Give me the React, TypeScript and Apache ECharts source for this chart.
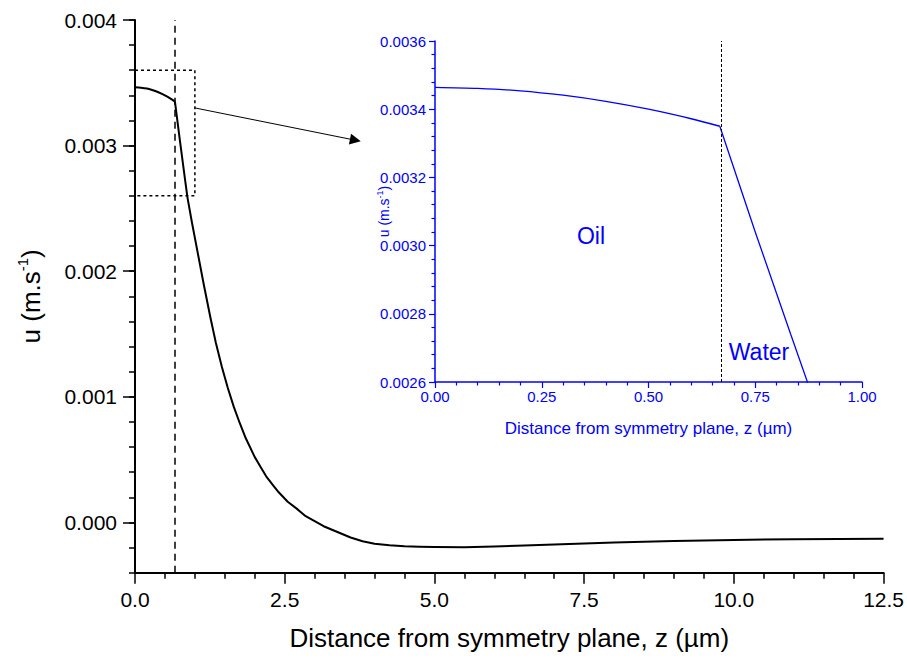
import React, { useEffect, useRef } from 'react';
import * as echarts from 'echarts';

// ---- data ----
const oilZ = [0, 0.1, 0.2, 0.3, 0.4, 0.5, 0.6, 0.667];
const oilU = [0.003464, 0.003461, 0.003454, 0.003441, 0.003423, 0.0034, 0.003372, 0.00335];

const waterZ = [0.667, 0.75, 0.833, 0.875, 0.95, 1.05, 1.15, 1.26, 1.35, 1.45, 1.55, 1.65, 1.75, 1.85, 2.0, 2.1, 2.2, 2.3, 2.4, 2.55, 2.7, 2.85, 3.0, 3.15, 3.3, 3.45, 3.6, 3.8, 4.0, 4.25, 4.5, 4.75, 5.0, 5.5, 6.0, 6.5, 7.0, 8.0, 9.0, 10.0, 11.0, 12.5];
const waterU = [0.00335, 0.00304, 0.00274, 0.00259, 0.00239, 0.00214, 0.00189, 0.00163, 0.00143, 0.00124, 0.00107, 0.00092, 0.00079, 0.00067, 0.00052, 0.00044, 0.00036, 0.0003, 0.00024, 0.000165, 0.00011, 0.00005, 0.00001, -0.00003, -0.00006, -0.00009, -0.00012, -0.00015, -0.00017, -0.000182, -0.00019, -0.000194, -0.000196, -0.000197, -0.000192, -0.000184, -0.000176, -0.00016, -0.000148, -0.000139, -0.000134, -0.00013];

const interfaceZ = 0.667;

const mainYMajor = [0, 0.001, 0.002, 0.003, 0.004];
const zoomBoxZ = [0, 1];
const zoomBoxU = [0.0026, 0.0036];
const arrowFrom = [1.0, 0.0033];
const arrowTo = [3.68, 0.003043];

const regionLabels = ['Oil', 'Water'];

const FONT = 'Liberation Sans, Arial, sans-serif';
const BLUE = '#0000ff';

const pairs = (xs: number[], ys: number[]) => xs.map((x, i) => [x, ys[i]]);
const isMultiple = (v: number, step: number) => Math.abs(v / step - Math.round(v / step)) < 1e-6;

export default function App() {
  const ref = useRef<HTMLDivElement>(null);
  useEffect(() => {
    if (!ref.current) return;
    const chart = echarts.init(ref.current, null, { renderer: 'svg' });
    const blackLine = { color: '#000', width: 2 };
    const blueLine = { color: BLUE, width: 1.5 };
    chart.setOption({
      animation: false,
      backgroundColor: '#fff',
      textStyle: { fontFamily: FONT },
      grid: [
        { left: 135, right: 23, top: 20, bottom: 88.3 },
        { left: 435, right: 45, top: 41, bottom: 279 },
      ],
      xAxis: [
        {
          gridIndex: 0, type: 'value', min: 0, max: 12.5, interval: 2.5,
          axisLine: { onZero: false, lineStyle: blackLine },
          axisTick: { length: 11, lineStyle: { color: '#000', width: 1.5 } },
          minorTick: { show: true, splitNumber: 5, length: 6, lineStyle: { color: '#000', width: 1.5 } },
          splitLine: { show: false },
          axisLabel: { fontSize: 21, color: '#000', margin: 16, fontFamily: FONT, formatter: (v: number) => v.toFixed(1) },
          name: 'Distance from symmetry plane, z (µm)', nameLocation: 'middle', nameGap: 52,
          nameTextStyle: { fontSize: 26, color: '#000', fontFamily: FONT },
        },
        {
          gridIndex: 1, type: 'value', min: 0, max: 1, interval: 0.25,
          axisLine: { onZero: false, lineStyle: blueLine },
          axisTick: { length: 6, lineStyle: { color: BLUE, width: 1.2 } },
          minorTick: { show: true, splitNumber: 5, length: 3.5, lineStyle: { color: BLUE, width: 1.2 } },
          splitLine: { show: false },
          axisLabel: { fontSize: 15, color: BLUE, margin: 7, fontFamily: FONT, formatter: (v: number) => v.toFixed(2) },
          name: 'Distance from symmetry plane, z (µm)', nameLocation: 'middle', nameGap: 38,
          nameMoveOverlap: false,
          nameTextStyle: { fontSize: 17, color: BLUE, fontFamily: FONT },
        },
      ],
      yAxis: [
        {
          gridIndex: 0, type: 'value', min: -0.0004, max: 0.004, interval: 0.0002, position: 'left',
          axisLine: { show: true, onZero: false, lineStyle: blackLine },
          axisTick: { length: 6, lineStyle: { color: '#000', width: 1.5 } },
          splitLine: { show: false },
          axisLabel: {
            fontSize: 21, color: '#000', margin: 18, fontFamily: FONT,
            formatter: (v: number) => (v >= -1e-9 && isMultiple(v, 0.001) ? Math.abs(v).toFixed(3) : ''),
          },
          name: '{a|u (m.s}{s|-1}{a|)}', nameLocation: 'middle', nameGap: 88,
          nameTextStyle: {
            rich: {
              a: { fontSize: 26, color: '#000', fontFamily: FONT, lineHeight: 32 },
              s: { fontSize: 15, color: '#000', fontFamily: FONT, lineHeight: 18, verticalAlign: 'top' },
            },
          },
        },
        {
          gridIndex: 0, type: 'value', min: -0.0004, max: 0.004, position: 'left',
          axisLine: { show: false, onZero: false },
          axisTick: { show: true, length: 12, customValues: mainYMajor, lineStyle: { color: '#000', width: 1.5 } },
          axisLabel: { show: false },
          splitLine: { show: false },
        },
        {
          gridIndex: 1, type: 'value', min: 0.0026, max: 0.0036, interval: 0.0002,
          axisLine: { show: true, onZero: false, lineStyle: blueLine },
          axisTick: { length: 6, lineStyle: { color: BLUE, width: 1.2 } },
          minorTick: { show: true, splitNumber: 5, length: 3.5, lineStyle: { color: BLUE, width: 1.2 } },
          splitLine: { show: false },
          axisLabel: { fontSize: 15, color: BLUE, margin: 9, fontFamily: FONT, formatter: (v: number) => v.toFixed(4) },
          name: '{a|u (m.s}{s|-1}{a|)}', nameLocation: 'middle', nameGap: 43,
          nameMoveOverlap: false,
          nameTextStyle: {
            rich: {
              a: { fontSize: 14, color: BLUE, fontFamily: FONT, lineHeight: 17 },
              s: { fontSize: 9, color: BLUE, fontFamily: FONT, lineHeight: 9, verticalAlign: 'top' },
            },
          },
        },
      ],
      series: [
        {
          type: 'line', xAxisIndex: 0, yAxisIndex: 0, data: pairs(oilZ, oilU),
          symbol: 'none', smooth: 0.3, lineStyle: { color: '#000', width: 2 },
          markLine: {
            silent: true, symbol: ['none', 'none'], label: { show: false },
            lineStyle: { color: '#000', width: 1.5, type: [7, 5] },
            data: [{ xAxis: interfaceZ }],
          },
        },
        {
          type: 'line', xAxisIndex: 0, yAxisIndex: 0, data: pairs(waterZ, waterU),
          symbol: 'none', smooth: false, lineStyle: { color: '#000', width: 2, join: 'round' },
        },
        {
          type: 'line', xAxisIndex: 0, yAxisIndex: 0,
          data: [[zoomBoxZ[0], zoomBoxU[1]], [zoomBoxZ[1], zoomBoxU[1]], [zoomBoxZ[1], zoomBoxU[0]], [zoomBoxZ[0], zoomBoxU[0]]],
          symbol: 'none', lineStyle: { color: '#000', width: 1.5, type: [3, 3] },
          markLine: {
            silent: true, symbol: ['none', 'triangle'], symbolSize: 11, label: { show: false },
            lineStyle: { color: '#000', width: 1, type: 'solid' },
            itemStyle: { color: '#000' },
            data: [[{ coord: arrowFrom }, { coord: arrowTo }]],
          },
        },
        {
          type: 'line', xAxisIndex: 1, yAxisIndex: 2, data: pairs(oilZ, oilU),
          symbol: 'none', smooth: 0.3, clip: true, lineStyle: { color: BLUE, width: 1.3 },
          markLine: {
            silent: true, symbol: ['none', 'none'], label: { show: false },
            lineStyle: { color: '#000', width: 1, type: [3, 2] },
            data: [{ xAxis: interfaceZ }],
          },
        },
        {
          type: 'line', xAxisIndex: 1, yAxisIndex: 2, data: pairs(waterZ, waterU),
          symbol: 'none', smooth: false, clip: true, lineStyle: { color: BLUE, width: 1.3 },
        },
      ],
      graphic: [
        { type: 'text', x: 591, y: 236, style: { text: regionLabels[0], fontSize: 23, fill: BLUE, fontFamily: FONT, align: 'center', verticalAlign: 'middle' } },
        { type: 'text', x: 759, y: 352, style: { text: regionLabels[1], fontSize: 23, fill: BLUE, fontFamily: FONT, align: 'center', verticalAlign: 'middle' } },
      ],
    });
    return () => chart.dispose();
  }, []);
  return <div ref={ref} style={{ position: 'fixed', left: 0, top: 0, width: 907, height: 661 }} />;
}
